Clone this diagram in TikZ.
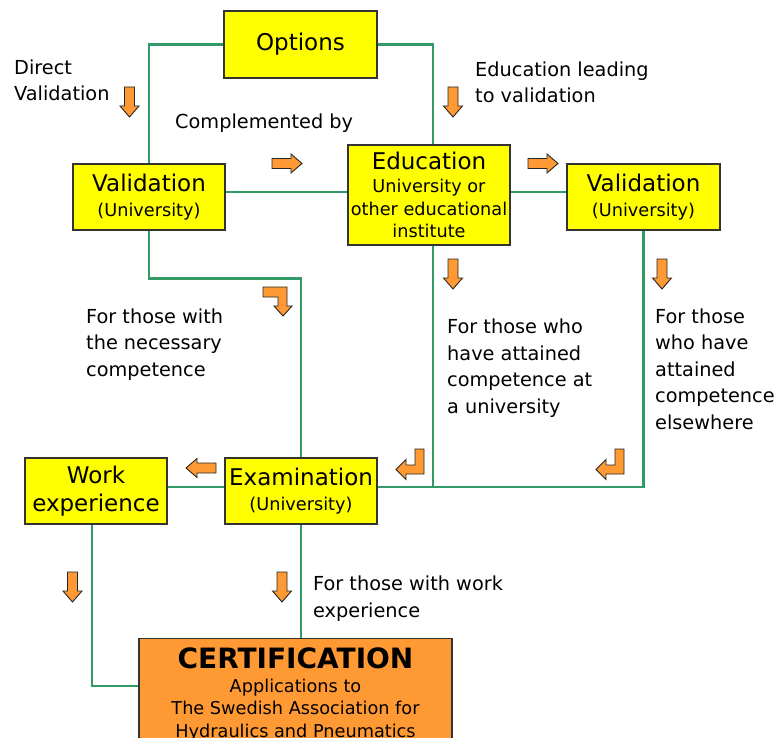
\documentclass[tikz,border=0pt]{standalone}
\usepackage{fontspec}
\setmainfont{DejaVu Sans}

\definecolor{linkgreen}{HTML}{339966}
\definecolor{boxyellow}{HTML}{FFFF00}
\definecolor{arroworange}{HTML}{FF9933}

\newcommand{\titlefont}{\fontsize{23}{27}\selectfont}
\newcommand{\subfont}{\fontsize{17.7}{22.5}\selectfont}
\newcommand{\notefont}{\fontsize{19.3}{26.5}\selectfont}

\tikzset{
  box/.style={draw=black!80, fill=boxyellow, line width=1.3pt, inner sep=0pt,
    align=center, font=\subfont},
  certbox/.style={box, fill=arroworange},
  link/.style={draw=linkgreen, line width=2.4pt},
  note/.style={anchor=base west, align=left, inner sep=0pt, font=\notefont},
  blockfill/.style={draw=black!85, fill=arroworange, line width=0.9pt, line join=miter},
  pics/blockarrow/.style={code={
    \draw[blockfill] (-5,0) -- (5,0) -- (5,19) -- (9.5,19) -- (0,30)
      -- (-9.5,19) -- (-5,19) -- cycle;}},
  pics/returnarrow/.style={code={
    \draw[blockfill] (-9,0) -- (0,0) -- (0,25) -- (-18,25) -- (-18,30.5)
      -- (-28,20.5) -- (-18,10.5) -- (-18,16) -- (-9,16) -- cycle;}},
}

\begin{document}
\begin{tikzpicture}[x=1pt, y=-1pt]
  \useasboundingbox (0,0) rectangle (784,738);

  %% boxes
  \node[box, minimum width=153pt, minimum height=67pt] (options) at (300.5,44.5)
       {\titlefont Options};
  \node[box, minimum width=152pt, minimum height=66pt] (valleft) at (149,197)
       {{\titlefont Validation}\\[2pt](University)};
  \node[box, minimum width=162pt, minimum height=100pt] (edu) at (429,195)
       {{\titlefont Education}\\[1pt]University or\\other educational\\institute};
  \node[box, minimum width=153pt, minimum height=66pt] (valright) at (643.5,197)
       {{\titlefont Validation}\\[2pt](University)};
  \node[box, minimum width=142pt, minimum height=66pt] (work) at (96,491)
       {\titlefont Work\\[5pt]\titlefont experience};
  \node[box, minimum width=152pt, minimum height=66pt] (exam) at (301,491)
       {{\titlefont Examination}\\[2pt](University)};
  \node[certbox, minimum width=313pt, minimum height=112pt, anchor=north] (cert) at (295.5,638)
       {\fontsize{28}{32}\selectfont\bfseries CERTIFICATION\\[1pt]
        Applications to\\The Swedish Association for\\Hydraulics and Pneumatics};

  %% rows the links run along
  \coordinate (midrow) at (0,192);
  \coordinate (lowrow) at (0,487);
  \coordinate (certrow) at (0,686);

  %% links
  \draw[link] (options.west) -| (valleft.north);
  \draw[link] (options.east) -| ([xshift=4pt]edu.north);
  \draw[link] (valleft.east |- midrow) -- (edu.west |- midrow);
  \draw[link] (edu.east |- midrow) -- (valright.west |- midrow);
  \draw[link] (valleft.south) -- ++(0,48) -| (exam.north);
  \draw[link] ([xshift=4pt]edu.south) -- ([xshift=4pt]edu.south |- lowrow);
  \draw[link] (valright.south) |- (exam.east |- lowrow);
  \draw[link] (work.east |- lowrow) -- (exam.west |- lowrow);
  \draw[link] ([xshift=-4pt]work.south) |- (cert.west |- certrow);
  \draw[link] (exam.south) -- (exam.south |- cert.north);

  %% orange arrows
  \foreach \ax/\ay in {129.5/87, 453/87, 453/259, 662/259, 72.5/572, 282/572} {
    \pic at (\ax,\ay) {blockarrow}; }
  \pic[rotate=90] at (272,163.5) {blockarrow};
  \pic[rotate=90] at (528,163.5) {blockarrow};
  \pic[rotate=-90] at (216,468) {blockarrow};
  \pic at (424,449) {returnarrow};
  \pic at (624,449) {returnarrow};
  \draw[blockfill] (263,287) -- (287,287) -- (287,306) -- (292,306) -- (283,316)
     -- (274,306) -- (278,306) -- (278,297) -- (263,297) -- cycle;

  %% notes (placed at the baseline of their last line)
  \node[note] (directnote) at (14,101) {Direct\\Validation};
  \node[note] (complnote) at (175,129) {Complemented by};
  \node[note] (leadnote) at (475,103) {Education leading\\to validation};
  \node[note] (neednote) at (86,376) {For those with\\the necessary\\competence};
  \node[note] (uninote) at (447,413) {For those who\\have attained\\competence at\\a university};
  \node[note] (elsenote) at (655,429) {For those\\who have\\attained\\competence\\elsewhere};
  \node[note] (worknote) at (313,617) {For those with work\\experience};

\end{tikzpicture}
\end{document}
